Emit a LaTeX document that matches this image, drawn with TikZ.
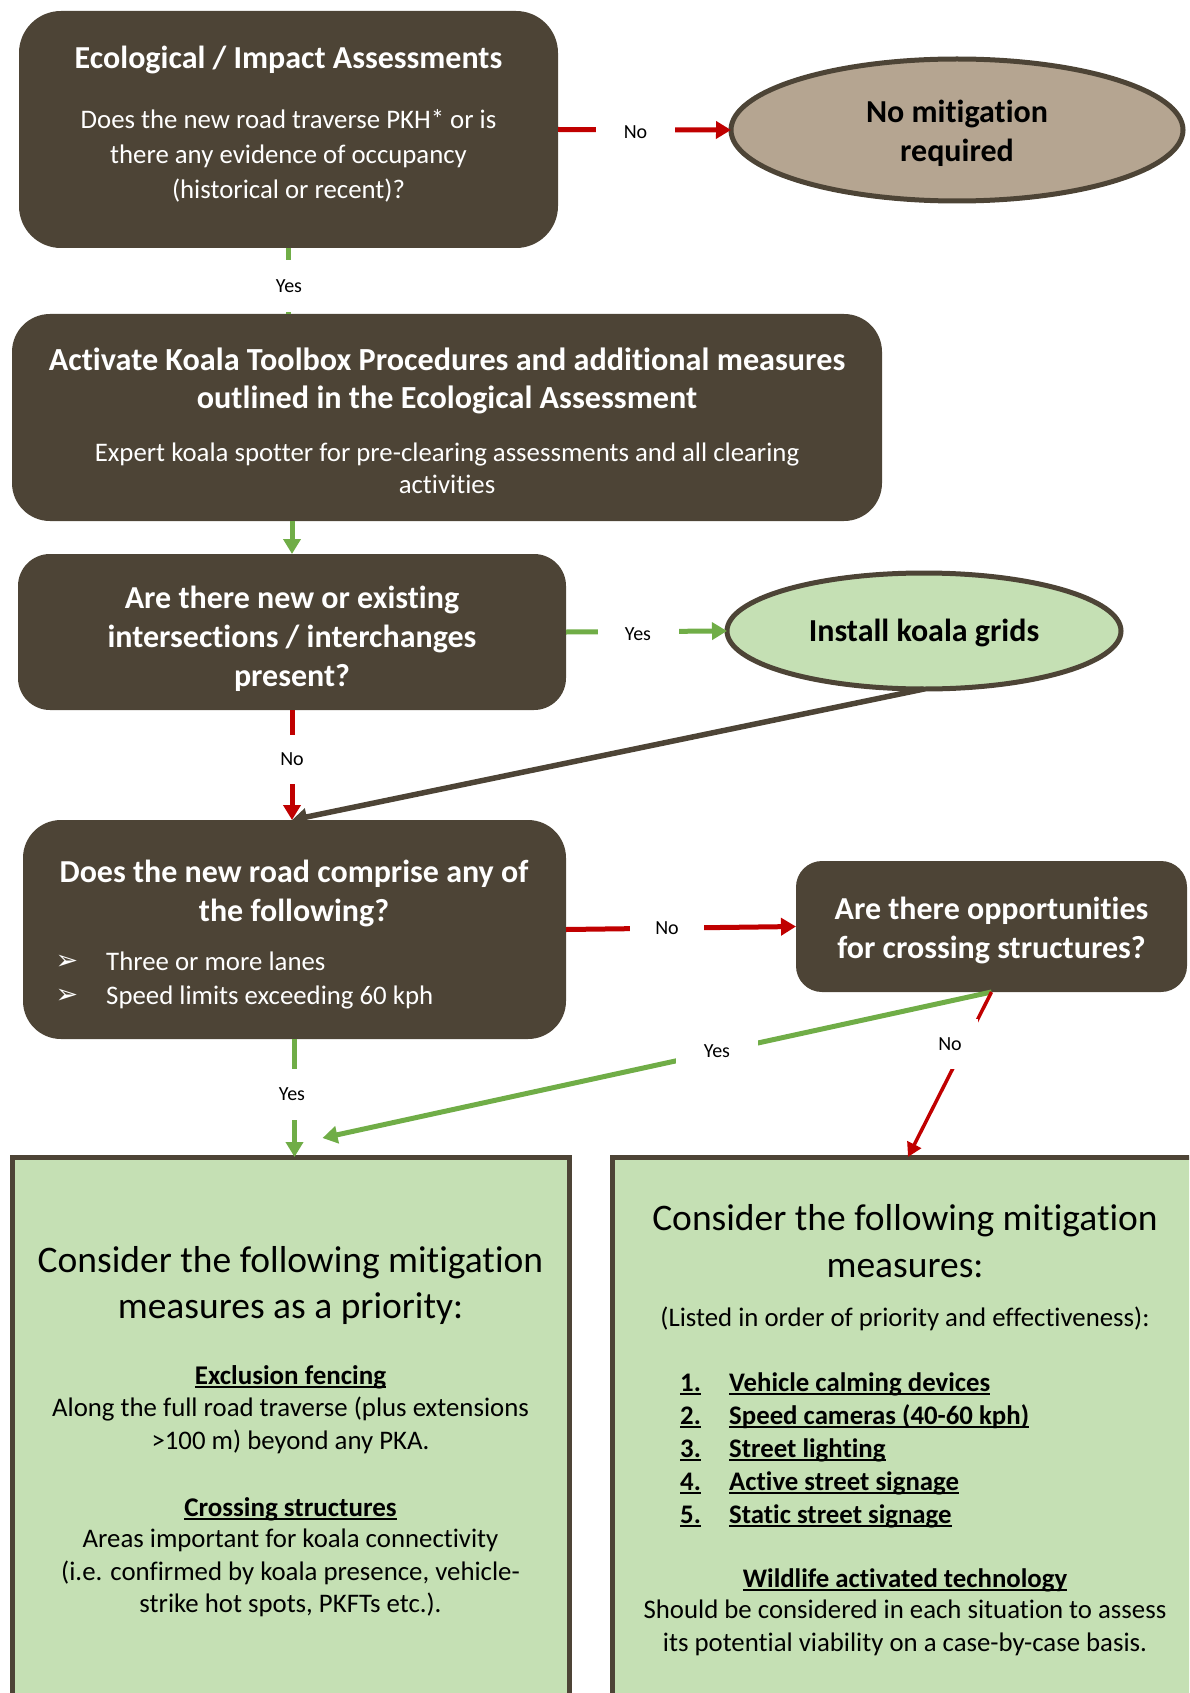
\documentclass[tikz,border=0pt]{standalone}
\usepackage{fontspec}
\setmainfont{Carlito}[Ligatures=NoCommon]
\newfontfamily\symfont{DejaVu Sans}
\usetikzlibrary{arrows.meta,shapes.geometric,calc}
\definecolor{kbrown}{RGB}{77,68,54}
\definecolor{ktan}{RGB}{181,165,145}
\definecolor{kgreen}{RGB}{197,224,180}
\definecolor{kred}{RGB}{192,0,0}
\definecolor{kgline}{RGB}{112,173,71}
\newcommand\fs[2]{\fontsize{#1}{#2}\selectfont}
\newsavebox\ulbox
\newcommand\myul[1]{{\sbox\ulbox{#1}\leavevmode\rlap{\vrule height -2.2pt depth 4pt width \wd\ulbox}\usebox\ulbox}}
\begin{document}
\begin{tikzpicture}[x=1pt,y=-1pt,
  dbox/.style={fill=kbrown,draw=none,inner sep=0pt,outer sep=0pt},
  wt/.style={text=white,align=center,inner sep=0pt},
  bt/.style={text=black,align=center,inner sep=0pt},
  gbox/.style={draw=kbrown,line width=5pt,fill=kgreen,inner sep=0pt,outer sep=0pt,anchor=north west},
  lbl/.style={fill=white,inner sep=0pt,text=black,font=\fs{20}{24}},
  rarr/.style={draw=kred,line width=5pt,-{Triangle[length=15pt,width=17pt]}},
  garr/.style={draw=kgline,line width=5pt,-{Triangle[length=15pt,width=17pt]}},
  gline/.style={draw=kgline,line width=5pt},
  barr/.style={draw=kbrown,line width=5.5pt,-{Triangle[length=15pt,width=17pt]}},
  rarrthin/.style={draw=kred,line width=3.5pt,-{Triangle[length=14pt,width=15pt]}}
]
\useasboundingbox (0,0) rectangle (1189,1693);
\clip (0,0) rectangle (1189,1693);

% ---------- boxes ----------
\node[dbox, minimum width=539pt, minimum height=237pt, rounded corners=42pt] (box1) at (288.5,129.5) {};
\node[wt, font=\bfseries\fs{32}{39}] (t1) at (288.5,60) {Ecological / Impact Assessments};
\node[wt, font=\fs{26.8}{35}] (b1) at (288.5,156) {Does the new road traverse PKH* or is\\there any evidence of occupancy\\(historical or recent)?};

\node[ellipse, draw=kbrown, line width=5pt, fill=ktan, minimum width=452pt, minimum height=142pt, inner sep=0pt, outer sep=0pt] (ell1) at (957,130) {};
\node[bt, font=\bfseries\fs{32}{39}] (e1t) at (957,133) {No mitigation\\required};

\node[dbox, minimum width=870pt, minimum height=207pt, rounded corners=38pt] (box2) at (447,417.5) {};
\node[wt, font=\bfseries\fs{32.2}{38}] (t2) at (447,381) {Activate Koala Toolbox Procedures and additional measures\\outlined in the Ecological Assessment};
\node[wt, font=\fs{26.8}{32}] (b2) at (447,468) {Expert koala spotter for pre-clearing assessments and all clearing\\activities};

\node[dbox, minimum width=548pt, minimum height=156pt, rounded corners=32pt] (box3) at (292,632) {};
\node[wt, font=\bfseries\fs{32}{39}] (t3) at (292,638.5) {Are there new or existing\\intersections / interchanges\\present?};

\node[ellipse, draw=kbrown, line width=5pt, fill=kgreen, minimum width=394pt, minimum height=116pt, inner sep=0pt, outer sep=0pt] (ell2) at (924,631) {};
\node[bt, font=\bfseries\fs{32}{39}] (e2t) at (924,633) {Install koala grids};

\node[dbox, minimum width=543pt, minimum height=219pt, rounded corners=38pt] (box4) at (294.5,929.5) {};
\node[wt, font=\bfseries\fs{32}{39}] (t4) at (294,893.5) {Does the new road comprise any of\\the following?};
\node[wt, font=\symfont\fs{27}{30}] (a41) at (67,962) {➢};
\node[wt, font=\symfont\fs{27}{30}] (a42) at (67,996) {➢};
\node[wt, font=\fs{26.8}{30}, anchor=base west] (b41) at (106,970) {Three or more lanes};
\node[wt, font=\fs{26.8}{30}, anchor=base west] (b42) at (106,1004) {Speed limits exceeding 60 kph};

\node[dbox, minimum width=391pt, minimum height=131pt, rounded corners=26pt] (box5) at (991.5,926.5) {};
\node[wt, font=\bfseries\fs{32}{39}] (t5) at (991.5,930) {Are there opportunities\\for crossing structures?};

\node[gbox, minimum width=557pt, minimum height=620pt] (box6) at (12,1157) {};
\node[gbox, minimum width=592pt, minimum height=620pt] (box7) at (612,1157) {};

% ---------- box 6 text ----------
\node[bt, font=\fs{37.5}{46}] (h6) at (290.5,1285) {Consider the following mitigation\\measures as a priority:};
\node[bt, font=\bfseries\fs{27}{32}, anchor=base] (s61) at (290.5,1384) {\myul{Exclusion fencing}};
\node[bt, font=\fs{26.8}{33}] (p61) at (290.5,1425.5) {Along the full road traverse (plus extensions\\>100 m) beyond any PKA.};
\node[bt, font=\bfseries\fs{27}{32}, anchor=base] (s62) at (290.5,1516) {\myul{Crossing structures}};
\node[bt, font=\fs{26.8}{32.5}] (p62) at (290.5,1573) {Areas important for koala connectivity\\(i.e. confirmed by koala presence, vehicle-\\strike hot spots, PKFTs etc.).};

% ---------- box 7 text ----------
\node[bt, font=\fs{37.5}{47}] (h7) at (905,1241) {Consider the following mitigation\\measures:};
\node[bt, font=\fs{26.8}{32}, anchor=base] (l7) at (905,1326) {(Listed in order of priority and effectiveness):};
\foreach \i/\yy/\txt in {1/1391/Vehicle calming devices,2/1424/Speed cameras (40-60 kph),3/1457/Street lighting,4/1490/Active street signage,5/1523/Static street signage}{
  \node[bt, font=\bfseries\fs{26.8}{32}, anchor=base west] (n\i) at (680,\yy) {\myul{\i.}};
  \node[bt, font=\bfseries\fs{26.8}{32}, anchor=base west] (it\i) at (729,\yy) {\myul{\txt}};
}
\node[bt, font=\bfseries\fs{26.8}{32}, anchor=base] (s71) at (905,1587) {\myul{Wildlife activated technology}};
\node[bt, font=\fs{26.8}{33}] (p71) at (905,1628) {Should be considered in each situation to assess\\its potential viability on a case-by-case basis.};

% ---------- connectors ----------
\draw[rarr] (box1.east) -- (ell1.west);
\draw[gline] (box1.south) -- (box1.south |- box2.north);
\draw[garr] (box2.south -| box3.north) -- (box3.north);
\draw[garr] (box3.east) -- (ell2.west);
\draw[barr] (ell2.south) -- (box3.south |- box4.north);
\draw[rarr] (box3.south) -- (box3.south |- box4.north);
\draw[rarr] (box4.east) -- (box5.west);
\draw[garr] (box4.south) -- (box4.south |- box6.north);
\draw[garr] (box5.south) -- ($(box6.north)+(32,-19)$);
\draw[rarrthin] (box5.south) -- (box7.north);

% ---------- labels ----------
\node[lbl, minimum width=79pt, minimum height=24pt] (lno1) at (635.5,132) {No};
\node[lbl, minimum width=36pt, minimum height=52pt] (lyes1) at (289,286) {Yes};
\node[lbl, minimum width=81pt, minimum height=24pt] (lyes2) at (638,634) {Yes};
\node[lbl, minimum width=36pt, minimum height=49pt] (lno2) at (292,759) {No};
\node[lbl, minimum width=74pt, minimum height=24pt] (lno3) at (667,928) {No};
\node[lbl, minimum width=36pt, minimum height=51pt] (lyes3) at (292,1094) {Yes};
\node[lbl, minimum width=82pt, minimum height=26pt] (lyes4) at (717,1051) {Yes};
\node[lbl, minimum width=56pt, minimum height=50pt] (lno4) at (950,1044) {No};
\end{tikzpicture}
\end{document}
